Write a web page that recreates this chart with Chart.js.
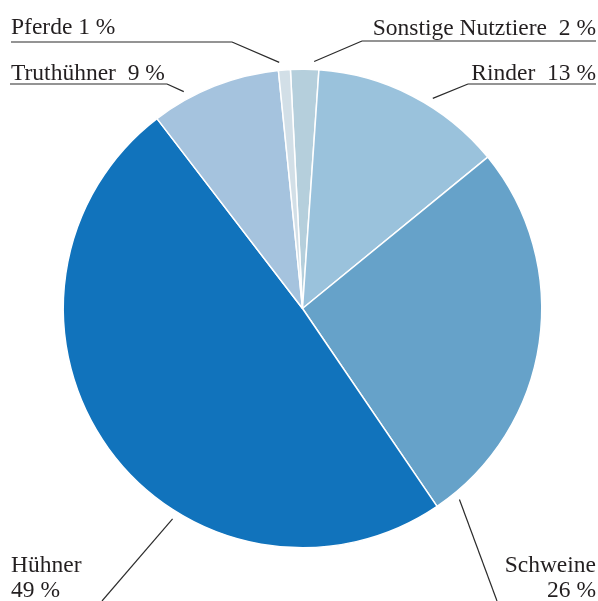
<!doctype html>
<html>

<head>
	<meta charset="utf-8">
	<title>Nutztiere</title>
	<style>
		body {
			margin: 0;
			background: #fff;
		}

		canvas {
			display: block;
		}
	</style>
	<script src="https://cdn.jsdelivr.net/npm/chart.js@4.4.0/dist/chart.umd.min.js"></script>
</head>

<body>
	<canvas id="pie" width="598" height="601"></canvas>
	<script>
		"use strict";
		// slices clockwise from the top
		const names = ["Sonstige Nutztiere", "Rinder", "Schweine", "Hühner", "Truthühner", "Pferde"];
		const shares = [1.9, 13, 26.4, 49.1, 8.8, 0.8];
		const percents = [2, 13, 26, 49, 9, 1];
		const colors = ["#b5cfdc", "#9ac2dc", "#66a2c9", "#1173bc", "#a5c3de", "#d2dfe7"];

		// where each label goes (angle = leader anchor, degrees clockwise from top)
		const label_layout = [
			{ angle: 2.7, sep: "  ", knee: [362, 41], under: [362, 596], text: [596, 35], align: "right" },
			{ angle: 31.8, sep: "  ", knee: [468, 84], under: [468, 596], text: [596, 80], align: "right" },
			{ angle: 140.6, sep: "\n", knee: [497, 601], text: [596, 572], align: "right" },
			{ angle: 211.7, sep: "\n", knee: [102, 601], text: [11, 572], align: "left" },
			{ angle: -28.7, sep: "  ", knee: [167, 84], under: [10, 167], text: [11, 80], align: "left" },
			{ angle: -5.4, sep: " ", knee: [232, 42], under: [11, 232], text: [11, 34], align: "left" }
		];

		const leader_labels = {
			id: "leader_labels",
			afterDatasetsDraw(chart) {
				const ctx = chart.ctx;
				const arc = chart.getDatasetMeta(0).data[0];
				const cx = arc.x, cy = arc.y, r = arc.outerRadius + 8;
				ctx.save();
				ctx.strokeStyle = "#2b2b2b";
				ctx.lineWidth = 1.2;
				ctx.fillStyle = "#231f20";
				ctx.font = "23.5px 'Liberation Serif'";
				ctx.textBaseline = "alphabetic";
				label_layout.forEach((lay, i) => {
					const a = lay.angle * Math.PI / 180;
					const ax = cx + r * Math.sin(a), ay = cy - r * Math.cos(a);
					ctx.beginPath();
					ctx.moveTo(ax, ay);
					ctx.lineTo(lay.knee[0], lay.knee[1]);
					if (lay.under) {
						ctx.moveTo(lay.under[0], lay.knee[1]);
						ctx.lineTo(lay.under[1], lay.knee[1]);
					}
					ctx.stroke();
					ctx.textAlign = lay.align;
					const lines = (names[i] + lay.sep + percents[i] + " %").split("\n");
					lines.forEach((txt, k) => ctx.fillText(txt, lay.text[0], lay.text[1] + k * 25));
				});
				ctx.restore();
			}
		};

		new Chart(document.getElementById("pie"), {
			type: "pie",
			data: {
				labels: names,
				datasets: [{
					data: shares,
					backgroundColor: colors,
					borderColor: "#fff",
					borderWidth: 1.5,
					hoverOffset: 0
				}]
			},
			options: {
				responsive: false,
				animation: false,
				rotation: -2.9,
				layout: {
					padding: { left: 62.5, right: 55.5, top: 68.5, bottom: 52.5 }
				},
				plugins: {
					legend: { display: false },
					tooltip: { enabled: false }
				}
			},
			plugins: [leader_labels]
		});
	</script>
</body>

</html>
